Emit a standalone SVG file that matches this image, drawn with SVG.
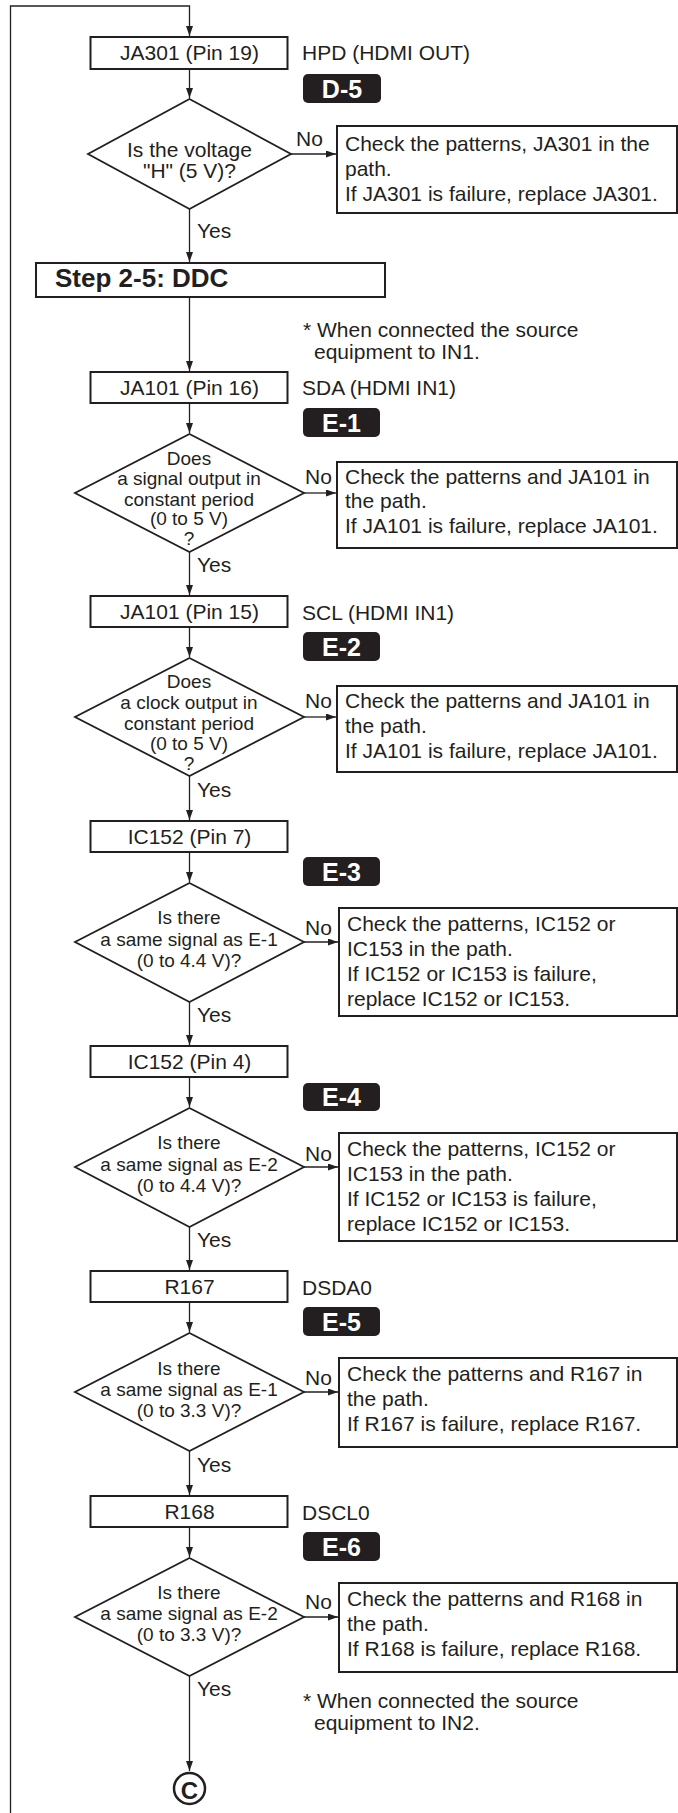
<svg xmlns="http://www.w3.org/2000/svg" width="678" height="1813" viewBox="0 0 678 1813">
<style>
  text { font-family: "Liberation Sans", Arial, sans-serif; fill: #231f20; }
  .t { font-size: 21px; }
  .c { text-anchor: middle; }
  .dt { font-size: 19px; text-anchor: middle; }
  .box { fill: #fff; stroke: #231f20; stroke-width: 2; }
  .dia { fill: #fff; stroke: #231f20; stroke-width: 1.8; }
  .conn { fill: none; stroke: #231f20; stroke-width: 1.3; }
  .badge { fill: #231f20; }
  .bt { font-size: 25px; font-weight: bold; fill: #fff; text-anchor: middle; }
  .lbl { font-size: 21px; }
</style>
<defs>
  <marker id="ah" markerUnits="userSpaceOnUse" markerWidth="10" markerHeight="7" refX="10" refY="3.5" orient="auto">
    <path d="M0,0 L10,3.5 L0,7 z" fill="#231f20"/>
  </marker>
</defs>
<rect width="678" height="1813" fill="#fff"/>

<g id="connectors">
  <path class="conn" d="M10.5,1813 V6 H189.5 V36" marker-end="url(#ah)"/>
  <path class="conn" d="M189.5,69 V98" marker-end="url(#ah)"/>
  <path class="conn" d="M189.5,209 V262" marker-end="url(#ah)"/>
  <path class="conn" d="M189.5,297 V371" marker-end="url(#ah)"/>
  <path class="conn" d="M189.5,403 V433" marker-end="url(#ah)"/>
  <path class="conn" d="M189.5,552 V595" marker-end="url(#ah)"/>
  <path class="conn" d="M189.5,627 V657" marker-end="url(#ah)"/>
  <path class="conn" d="M189.5,776 V820" marker-end="url(#ah)"/>
  <path class="conn" d="M189.5,852 V882" marker-end="url(#ah)"/>
  <path class="conn" d="M189.5,1002 V1045" marker-end="url(#ah)"/>
  <path class="conn" d="M189.5,1077 V1107" marker-end="url(#ah)"/>
  <path class="conn" d="M189.5,1227 V1270" marker-end="url(#ah)"/>
  <path class="conn" d="M189.5,1302 V1332" marker-end="url(#ah)"/>
  <path class="conn" d="M189.5,1451 V1495" marker-end="url(#ah)"/>
  <path class="conn" d="M189.5,1527 V1557" marker-end="url(#ah)"/>
  <path class="conn" d="M189.5,1676 V1771" marker-end="url(#ah)"/>
  <path class="conn" d="M291,154 H336" marker-end="url(#ah)"/>
  <path class="conn" d="M304,493 H336" marker-end="url(#ah)"/>
  <path class="conn" d="M304,717 H336" marker-end="url(#ah)"/>
  <path class="conn" d="M304,942 H338" marker-end="url(#ah)"/>
  <path class="conn" d="M304,1167 H338" marker-end="url(#ah)"/>
  <path class="conn" d="M304,1392 H338" marker-end="url(#ah)"/>
  <path class="conn" d="M304,1617 H338" marker-end="url(#ah)"/>
  <text class="lbl" x="296" y="146">No</text>
  <text class="lbl" x="305" y="484">No</text>
  <text class="lbl" x="305" y="708">No</text>
  <text class="lbl" x="305" y="935">No</text>
  <text class="lbl" x="305" y="1161">No</text>
  <text class="lbl" x="305" y="1385">No</text>
  <text class="lbl" x="305" y="1609">No</text>
  <text class="lbl" x="197" y="238">Yes</text>
  <text class="lbl" x="197" y="572">Yes</text>
  <text class="lbl" x="197" y="797">Yes</text>
  <text class="lbl" x="197" y="1022">Yes</text>
  <text class="lbl" x="197" y="1247">Yes</text>
  <text class="lbl" x="197" y="1472">Yes</text>
  <text class="lbl" x="197" y="1696">Yes</text>
</g>

<!-- Row 1 -->
<g id="box-ja301">
  <rect class="box" x="90.5" y="37" width="197" height="32"/>
  <text class="t c" x="189.5" y="60">JA301 (Pin 19)</text>
  <text class="t" x="302" y="60">HPD (HDMI OUT)</text>
</g>
<g id="badge-d5">
  <rect class="badge" x="303" y="74" width="78" height="29" rx="5"/>
  <text class="bt" x="342" y="98">D-5</text>
</g>
<g id="dec-1">
  <polygon class="dia" points="189.5,99 291,154 189.5,209 88,154"/>
  <text class="t c" x="189.5" y="157">Is the voltage</text>
  <text class="t c" x="189.5" y="178">"H" (5 V)?</text>
</g>
<g id="fix-1">
  <rect class="box" x="337" y="126" width="340" height="87"/>
  <text class="t" x="345" y="151">Check the patterns, JA301 in the</text>
  <text class="t" x="345" y="176">path.</text>
  <text class="t" x="345" y="201">If JA301 is failure, replace JA301.</text>
</g>

<g id="step-2-5">
  <rect class="box" x="36" y="263" width="349" height="34"/>
  <text x="55" y="287" style="font-size:26px;font-weight:bold">Step 2-5: DDC</text>
</g>
<g id="note-in1">
  <text class="t" x="303" y="337">* When connected the source</text>
  <text class="t" x="314" y="359">equipment to IN1.</text>
</g>

<!-- Row 2 -->
<g id="box-ja101-16">
  <rect class="box" x="90.5" y="372" width="197" height="31"/>
  <text class="t c" x="189.5" y="395">JA101 (Pin 16)</text>
  <text class="t" x="302" y="395">SDA (HDMI IN1)</text>
</g>
<g id="badge-e1">
  <rect class="badge" x="303" y="408" width="77" height="29" rx="5"/>
  <text class="bt" x="341.5" y="432">E-1</text>
</g>
<g id="dec-2">
  <polygon class="dia" points="189.5,434 304,493 189.5,552 75,493"/>
  <text class="dt" x="189" y="465">Does</text>
  <text class="dt" x="189" y="485">a signal output in</text>
  <text class="dt" x="189" y="506">constant period</text>
  <text class="dt" x="189" y="525">(0 to 5 V)</text>
  <text class="dt" x="189" y="545">?</text>
</g>
<g id="fix-2">
  <rect class="box" x="337" y="462" width="340" height="86"/>
  <text class="t" x="345" y="484">Check the patterns and JA101 in</text>
  <text class="t" x="345" y="508">the path.</text>
  <text class="t" x="345" y="533">If JA101 is failure, replace JA101.</text>
</g>

<!-- Row 3 -->
<g id="box-ja101-15">
  <rect class="box" x="90.5" y="596" width="197" height="31"/>
  <text class="t c" x="189.5" y="619">JA101 (Pin 15)</text>
  <text class="t" x="302" y="620">SCL (HDMI IN1)</text>
</g>
<g id="badge-e2">
  <rect class="badge" x="303" y="632" width="77" height="29" rx="5"/>
  <text class="bt" x="341.5" y="656">E-2</text>
</g>
<g id="dec-3">
  <polygon class="dia" points="189.5,658 304,717 189.5,776 75,717"/>
  <text class="dt" x="189" y="688">Does</text>
  <text class="dt" x="189" y="709">a clock output in</text>
  <text class="dt" x="189" y="730">constant period</text>
  <text class="dt" x="189" y="750">(0 to 5 V)</text>
  <text class="dt" x="189" y="770">?</text>
</g>
<g id="fix-3">
  <rect class="box" x="337" y="686" width="340" height="86"/>
  <text class="t" x="345" y="708">Check the patterns and JA101 in</text>
  <text class="t" x="345" y="733">the path.</text>
  <text class="t" x="345" y="758">If JA101 is failure, replace JA101.</text>
</g>

<!-- Row 4 -->
<g id="box-ic152-7">
  <rect class="box" x="90.5" y="821" width="197" height="31"/>
  <text class="t c" x="189.5" y="844">IC152 (Pin 7)</text>
</g>
<g id="badge-e3">
  <rect class="badge" x="303" y="857" width="77" height="29" rx="5"/>
  <text class="bt" x="341.5" y="881">E-3</text>
</g>
<g id="dec-4">
  <polygon class="dia" points="189.5,883 304,942 189.5,1002 75,942"/>
  <text class="dt" x="189" y="924">Is there</text>
  <text class="dt" x="189" y="946">a same signal as E-1</text>
  <text class="dt" x="189" y="967">(0 to 4.4 V)?</text>
</g>
<g id="fix-4">
  <rect class="box" x="339" y="908" width="338" height="108"/>
  <text class="t" x="347" y="931">Check the patterns, IC152 or</text>
  <text class="t" x="347" y="956">IC153 in the path.</text>
  <text class="t" x="347" y="981">If IC152 or IC153 is failure,</text>
  <text class="t" x="347" y="1006">replace IC152 or IC153.</text>
</g>

<!-- Row 5 -->
<g id="box-ic152-4">
  <rect class="box" x="90.5" y="1046" width="197" height="31"/>
  <text class="t c" x="189.5" y="1069">IC152 (Pin 4)</text>
</g>
<g id="badge-e4">
  <rect class="badge" x="303" y="1083" width="77" height="28" rx="5"/>
  <text class="bt" x="341.5" y="1106">E-4</text>
</g>
<g id="dec-5">
  <polygon class="dia" points="189.5,1108 304,1167 189.5,1227 75,1167"/>
  <text class="dt" x="189" y="1149">Is there</text>
  <text class="dt" x="189" y="1171">a same signal as E-2</text>
  <text class="dt" x="189" y="1192">(0 to 4.4 V)?</text>
</g>
<g id="fix-5">
  <rect class="box" x="339" y="1133" width="338" height="108"/>
  <text class="t" x="347" y="1156">Check the patterns, IC152 or</text>
  <text class="t" x="347" y="1181">IC153 in the path.</text>
  <text class="t" x="347" y="1206">If IC152 or IC153 is failure,</text>
  <text class="t" x="347" y="1231">replace IC152 or IC153.</text>
</g>

<!-- Row 6 -->
<g id="box-r167">
  <rect class="box" x="90.5" y="1271" width="197" height="31"/>
  <text class="t c" x="189.5" y="1294">R167</text>
  <text class="t" x="302" y="1295">DSDA0</text>
</g>
<g id="badge-e5">
  <rect class="badge" x="303" y="1307" width="77" height="29" rx="5"/>
  <text class="bt" x="341.5" y="1331">E-5</text>
</g>
<g id="dec-6">
  <polygon class="dia" points="189.5,1333 304,1392 189.5,1451 75,1392"/>
  <text class="dt" x="189" y="1375">Is there</text>
  <text class="dt" x="189" y="1396">a same signal as E-1</text>
  <text class="dt" x="189" y="1417">(0 to 3.3 V)?</text>
</g>
<g id="fix-6">
  <rect class="box" x="339" y="1358" width="338" height="89"/>
  <text class="t" x="347" y="1381">Check the patterns and R167 in</text>
  <text class="t" x="347" y="1406">the path.</text>
  <text class="t" x="347" y="1431">If R167 is failure, replace R167.</text>
</g>

<!-- Row 7 -->
<g id="box-r168">
  <rect class="box" x="90.5" y="1496" width="197" height="31"/>
  <text class="t c" x="189.5" y="1519">R168</text>
  <text class="t" x="302" y="1520">DSCL0</text>
</g>
<g id="badge-e6">
  <rect class="badge" x="303" y="1532" width="77" height="29" rx="5"/>
  <text class="bt" x="341.5" y="1556">E-6</text>
</g>
<g id="dec-7">
  <polygon class="dia" points="189.5,1558 304,1617 189.5,1676 75,1617"/>
  <text class="dt" x="189" y="1599">Is there</text>
  <text class="dt" x="189" y="1620">a same signal as E-2</text>
  <text class="dt" x="189" y="1641">(0 to 3.3 V)?</text>
</g>
<g id="fix-7">
  <rect class="box" x="339" y="1583" width="338" height="89"/>
  <text class="t" x="347" y="1606">Check the patterns and R168 in</text>
  <text class="t" x="347" y="1631">the path.</text>
  <text class="t" x="347" y="1656">If R168 is failure, replace R168.</text>
</g>
<g id="note-in2">
  <text class="t" x="303" y="1708">* When connected the source</text>
  <text class="t" x="314" y="1730">equipment to IN2.</text>
</g>

<g id="connector-c">
  <circle cx="189.5" cy="1788.5" r="15.5" fill="#fff" stroke="#231f20" stroke-width="2.5"/>
  <text x="189.5" y="1799" style="font-size:24px;font-weight:bold;text-anchor:middle">C</text>
</g>
</svg>
